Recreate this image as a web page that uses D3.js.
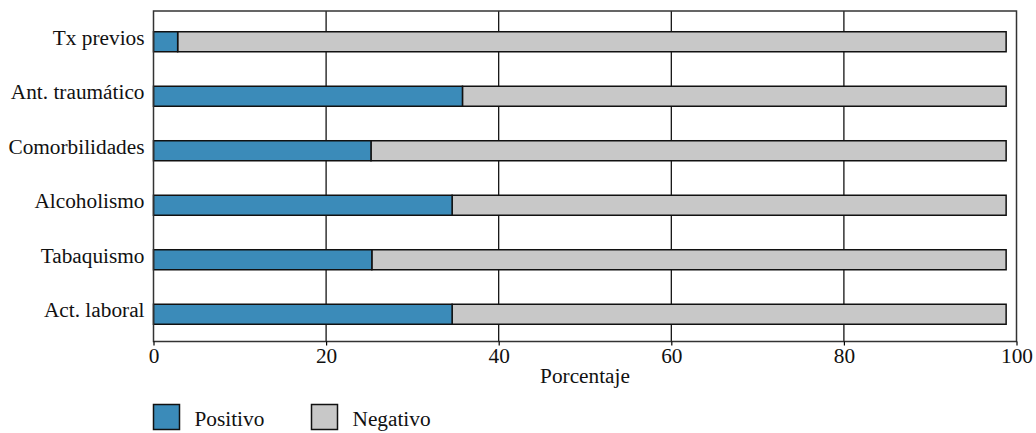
<!DOCTYPE html>
<html><head><meta charset="utf-8">
<script src="https://cdn.jsdelivr.net/npm/d3@7"></script>
<style>body{margin:0;background:#fff}svg{display:block}</style>
</head><body>
<svg id="chart" width="1036" height="433"></svg>
<script>
const categories = ["Tx previos","Ant. traumático","Comorbilidades","Alcoholismo","Tabaquismo","Act. laboral"];
const positivo = [2.8, 35.8, 25.2, 34.6, 25.3, 34.6];
const negativo = [96.0, 63.0, 73.6, 64.2, 73.5, 64.2];
const xTicks = [0, 20, 40, 60, 80, 100];
const seriesNames = ["Positivo","Negativo"];
const colors = ["#3b8bb9", "#c8c8c8"];

(function(){
const svg = d3.select("#chart");
const FF = '"Liberation Serif"', FS = "21.3px";
const mLeft = 153.5, mRight = 1016.5, mTop = 11, mBottom = 341.5;
const x = d3.scaleLinear().domain([0,100]).range([mLeft, mRight]);
const y = d3.scaleBand().domain(categories).range([14.5, 341.5]).paddingInner(0.633).paddingOuter(0.3165);

// grid
svg.append("g").selectAll("line").data(xTicks.slice(1,-1)).join("line")
  .attr("x1", d=>x(d)).attr("x2", d=>x(d)).attr("y1", mTop).attr("y2", mBottom)
  .attr("stroke", "#000").attr("stroke-width", 1.2);

// bars
const data = categories.map((c,i)=>({c, p: positivo[i], n: negativo[i]}));
const g = svg.append("g");
g.selectAll("rect.neg").data(data).join("rect").attr("class","neg")
  .attr("x", d=>x(d.p)).attr("width", d=>x(d.p+d.n)-x(d.p))
  .attr("y", d=>y(d.c)).attr("height", y.bandwidth())
  .attr("fill", colors[1]).attr("stroke", "#111").attr("stroke-width", 1.5);
g.selectAll("rect.pos").data(data).join("rect").attr("class","pos")
  .attr("x", d=>x(0)).attr("width", d=>x(d.p)-x(0))
  .attr("y", d=>y(d.c)).attr("height", y.bandwidth())
  .attr("fill", colors[0]).attr("stroke", "#111").attr("stroke-width", 1.5);

// frame
svg.append("rect").attr("x", mLeft).attr("y", mTop).attr("width", mRight-mLeft).attr("height", mBottom-mTop)
  .attr("fill","none").attr("stroke","#333").attr("stroke-width",1.5);

// axes
const xAxis = svg.append("g").attr("transform", `translate(0,${mBottom})`)
  .call(d3.axisBottom(x).tickValues(xTicks).tickSize(4).tickPadding(2.5));
xAxis.select(".domain").remove();
xAxis.selectAll("line").attr("stroke","#000").attr("stroke-width",1.2);
xAxis.selectAll("text").style("font-family", FF).style("font-size", FS).attr("fill","#111");

const yAxis = svg.append("g").attr("transform", `translate(${mLeft},0)`)
  .call(d3.axisLeft(y).tickSize(0).tickPadding(9));
yAxis.select(".domain").remove();
yAxis.selectAll("text").attr("dy", "3").style("font-family", FF).style("font-size", FS).attr("fill","#111");

svg.append("text").attr("x", (mLeft+mRight)/2).attr("y", 383).attr("text-anchor","middle")
  .style("font-family", FF).style("font-size", FS).attr("fill","#111").text("Porcentaje");

// legend
const legX = [153.5, 311.5];
const leg = svg.append("g").selectAll("g").data(seriesNames).join("g")
  .attr("transform", (d,i)=>`translate(${legX[i]},404.5)`);
leg.append("rect").attr("width", 26).attr("height", 25)
  .attr("fill", (d,i)=>colors[i]).attr("stroke","#111").attr("stroke-width",1.5);
leg.append("text").attr("x", 41).attr("y", 21).style("font-family", FF).style("font-size", FS)
  .attr("fill","#111").text(d=>d);
})();
</script>
</body></html>
